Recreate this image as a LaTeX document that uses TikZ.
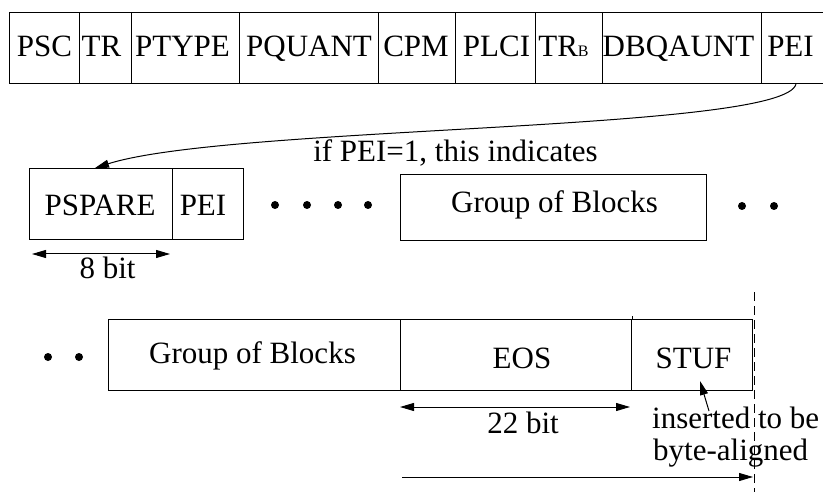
\documentclass[tikz,border=0pt]{standalone}
\usepackage{fontspec}
\setmainfont{Liberation Serif}
\usetikzlibrary{arrows.meta}

\begin{document}
\begin{tikzpicture}[x=1pt, y=-1pt,
  every node/.style={font=\fontsize{31}{32}\selectfont},
  field/.style={draw, line width=1pt, rectangle, inner sep=0pt, anchor=north west},
  lbl/.style={anchor=base, inner sep=0pt},
  lblw/.style={anchor=base west, inner sep=0pt},
  dot/.style={circle, fill, inner sep=0pt, minimum size=8pt},
  wire/.style={line width=1pt},
  tip/.style={wire, -{Triangle[length=14pt,width=8pt]}},
  tips/.style={wire, {Triangle[length=14pt,width=8pt]}-{Triangle[length=14pt,width=8pt]}},
  guide/.style={line width=1pt, dash pattern=on 9pt off 5pt}
]
\useasboundingbox (0,0) rectangle (823,492);

% ---- picture header fields ----
\node[field, minimum width=70pt,  minimum height=71pt] (psc)    at (9,12)   {};
\node[field, minimum width=52pt,  minimum height=71pt] (tr)     at (79,12)  {};
\node[field, minimum width=108pt, minimum height=71pt] (ptype)  at (131,12) {};
\node[field, minimum width=139pt, minimum height=71pt] (pquant) at (239,12) {};
\node[field, minimum width=77pt,  minimum height=71pt] (cpm)    at (378,12) {};
\node[field, minimum width=80pt,  minimum height=71pt] (plci)   at (455,12) {};
\node[field, minimum width=67pt,  minimum height=71pt] (trb)    at (535,12) {};
\node[field, minimum width=159pt, minimum height=71pt] (dbq)    at (602,12) {};
\node[field, minimum width=69pt,  minimum height=71pt] (pei)    at (761,12) {};

\node[lbl] (tpsc)    at (44.5,57)  {PSC};
\node[lbl] (ttr)     at (101.5,57) {TR};
\node[lbl] (tptype)  at (182.5,57) {PTYPE};
\node[lbl] (tpquant) at (309,57)   {PQUANT};
\node[lbl] (tcpm)    at (416,57)   {CPM};
\node[lbl] (tplci)   at (496.5,57) {PLCI};
\node[lbl] (ttrb)    at (563.5,57) {TR{\fontsize{16}{16}\selectfont B}};
\node[lbl] (tdbq)    at (678.5,57) {DBQAUNT};
\node[lbl] (tpei)    at (790.5,57) {PEI};

% ---- spare information and group of blocks ----
\node[field, minimum width=143pt, minimum height=71pt] (pspare) at (29,168)  {};
\node[field, minimum width=71pt,  minimum height=71pt] (pei2)   at (172,168) {};
\node[field, minimum width=306pt, minimum height=66pt] (gob1)   at (400,174) {};

\node[lbl] (tpspare) at (100,216)   {PSPARE};
\node[lbl] (tpei2)   at (203,216)   {PEI};
\node[lbl] (tgob1)   at (554.5,213) {Group of Blocks};

\node[dot] (d1) at (275,205) {};
\node[dot] (d2) at (307,205) {};
\node[dot] (d3) at (338,205) {};
\node[dot] (d4) at (368,205) {};
\node[dot] (d5) at (742,206) {};
\node[dot] (d6) at (774,206) {};

\coordinate (spareTop) at (95,168);
\draw[tip] (pei.south) .. controls (785,132) and (230,125) .. (spareTop);
\node[lbl] (cond) at (455.5,162) {if PEI=1, this indicates};

\coordinate (b8l) at (32,254);
\coordinate (b8r) at (170,254);
\draw[tips] (b8l) -- (b8r);
\node[lbl] (t8) at (107.5,279) {8 bit};

% ---- end of sequence ----
\node[dot] (d7) at (48,357) {};
\node[dot] (d8) at (79,357) {};

\node[field, minimum width=292pt, minimum height=71pt] (gob2) at (108,319) {};
\node[field, minimum width=231pt, minimum height=71pt] (eos)  at (400,319) {};
\node[field, minimum width=121pt, minimum height=71pt] (stuf) at (631,319) {};
\draw[wire] (eos.north east) -- ++(0,-3);

\node[lbl] (tgob2) at (252.5,363) {Group of Blocks};
\node[lbl] (teos)  at (522,368)   {EOS};
\node[lbl] (tstuf) at (693.5,368) {STUF};

\coordinate (b22l) at (400,407);
\coordinate (b22r) at (630,407);
\draw[tips] (b22l) -- (b22r);
\node[lbl] (t22) at (523,433) {22 bit};

\node[lblw] (ins1) at (652,428) {inserted to be};
\node[lblw] (ins2) at (653,460) {byte-aligned};
\coordinate (insTop) at (709,411);
\coordinate (stufIn) at (700,381);
\draw[tip] (insTop) -- (stufIn);

% byte boundary
\coordinate (gTop) at (754,292);
\coordinate (gBot) at (754,494);
\draw[guide] (gTop) -- (gBot);

\coordinate (spanL) at (402,477);
\coordinate (spanR) at (753,477);
\draw[tip] (spanL) -- (spanR);
\end{tikzpicture}
\end{document}
